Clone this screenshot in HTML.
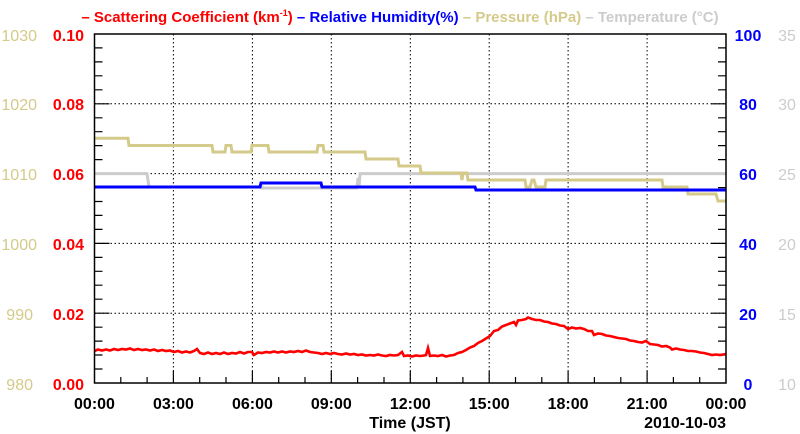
<!DOCTYPE html>
<html><head><style>body{margin:0;background:#fff}svg{display:block}</style></head><body>
<svg width="800" height="434" xmlns="http://www.w3.org/2000/svg" font-family="Liberation Sans, Arial, sans-serif">
<rect width="800" height="434" fill="#fff"/>
<g font-size="15" font-weight="bold">
<text x="400" y="22" text-anchor="middle"><tspan fill="#f00">– Scattering Coefficient (km<tspan font-size="9" dy="-6">-1</tspan><tspan dy="6">)</tspan></tspan><tspan fill="#00f"> – Relative Humidity(%)</tspan><tspan fill="#d4ca8a"> – Pressure (hPa)</tspan><tspan fill="#ccc"> – Temperature (°C)</tspan></text>
</g>
<g stroke="#000" stroke-width="1" stroke-dasharray="1.5,2.5">
<line x1="94.5" y1="103.8" x2="726" y2="103.8"/><line x1="94.5" y1="173.6" x2="726" y2="173.6"/><line x1="94.5" y1="243.4" x2="726" y2="243.4"/><line x1="94.5" y1="313.2" x2="726" y2="313.2"/>
<line x1="173.4" y1="34" x2="173.4" y2="383"/><line x1="252.4" y1="34" x2="252.4" y2="383"/><line x1="331.3" y1="34" x2="331.3" y2="383"/><line x1="410.3" y1="34" x2="410.3" y2="383"/><line x1="489.2" y1="34" x2="489.2" y2="383"/><line x1="568.1" y1="34" x2="568.1" y2="383"/><line x1="647.1" y1="34" x2="647.1" y2="383"/>
</g>
<g stroke="#000" stroke-width="1.2">
<path d="M94.5,47.9h8M94.5,61.9h8M94.5,75.8h8M94.5,89.8h8M94.5,117.8h8M94.5,131.7h8M94.5,145.6h8M94.5,159.6h8M94.5,187.6h8M94.5,201.5h8M94.5,215.4h8M94.5,229.4h8M94.5,257.4h8M94.5,271.3h8M94.5,285.2h8M94.5,299.2h8M94.5,327.2h8M94.5,341.1h8M94.5,355h8M94.5,369h8"/>
<path d="M94.5,103.8h15M94.5,173.6h15M94.5,243.4h15M94.5,313.2h15"/>
<path d="M726,47.9h-8M726,61.9h-8M726,75.8h-8M726,89.8h-8M726,117.8h-8M726,131.7h-8M726,145.6h-8M726,159.6h-8M726,187.6h-8M726,201.5h-8M726,215.4h-8M726,229.4h-8M726,257.4h-8M726,271.3h-8M726,285.2h-8M726,299.2h-8M726,327.2h-8M726,341.1h-8M726,355h-8M726,369h-8"/>
<path d="M726,103.8h-15M726,173.6h-15M726,243.4h-15M726,313.2h-15"/>
<path d="M120.8,383v-6M147.1,383v-6M173.4,383v-12M199.7,383v-6M226,383v-6M252.4,383v-12M278.7,383v-6M305,383v-6M331.3,383v-12M357.6,383v-6M384,383v-6M410.3,383v-12M436.6,383v-6M462.9,383v-6M489.2,383v-12M515.5,383v-6M541.8,383v-6M568.1,383v-12M594.4,383v-6M620.8,383v-6M647.1,383v-12M673.4,383v-6M699.7,383v-6"/>
</g>
<polyline fill="none" stroke="#ccc" stroke-width="3" points="94.5,173.6 147,173.6 149,187 262,187 262,188 357,188 358,178 359,188 360,173.6 726,173.6"/>
<polyline fill="none" stroke="#d4ca8a" stroke-width="3" points="94.5,138.3 128,138.3 129,145.5 212,145.5 213,152 225,152 226,145.5 231,145.5 232,152 251,152 252,145.5 268,145.5 269,152 317,152 318,145.5 323,145.5 324,152 365,152 366,159 398,159 399,166 420,166 421,173 461,173 462,180 463,173 467,173 468,180 525,180 526,187 530,187 532,180 534,180 536,187 545,187 546,180 662,180 663,187 687,187 688,194 716,194 718,201 726,201"/>
<polyline fill="none" stroke="#00f" stroke-width="3" points="94.5,187 260,187 261,183 321,183 322,187 475,187 476,190 726,190"/>
<polyline fill="none" stroke="#f00" stroke-width="2.6" points="94.5,351 98,349.5 102,350.5 106,349.5 110,350.5 114,349 118,350 122,349 126,349.5 130,348.5 134,350 138,349 142,350 146,349.5 150,350.5 154,349.5 158,351 162,350 166,351 170,350.5 174,352 178,351 182,352.5 186,351.5 190,352.5 194,351 197,349 200,353 204,354 208,352.5 212,354 216,353 220,354 224,352.5 228,354 232,353 236,353.5 240,352 244,353.5 248,352 252,352 254,355 258,352.5 262,353 266,352 270,352.5 274,351.5 278,352.5 282,351.5 286,352.5 290,351.5 294,352 298,351 302,352 306,350.5 310,352 314,352.5 318,353 322,354 326,353 330,354 334,353 338,354 342,354.5 346,353.5 350,354.5 354,354 358,355 362,354.5 366,355.5 370,355 374,355.5 378,354.5 382,355.5 386,356 390,355 394,355.5 398,355 402,352 404,356 408,355.5 412,356.5 416,355.5 420,356 424,355.5 426,355 428,348 430,356 434,355.5 438,356 442,355 446,356.5 450,355.5 454,355 458,353 462,352 466,350 470,347.5 474,346 478,343 482,341 486,338.5 490,336 494,331 498,330 502,326.5 506,325 510,323.5 514,322 516,325 518,320.5 522,320 526,319 528,317.5 532,319 536,320 540,320 544,321.5 548,322 552,323.5 556,324 560,325.5 564,326 568,329 572,327.5 576,328.5 580,328 584,329 588,331 592,331 594,335 598,333.5 602,334 606,335.5 610,336 614,337 618,338 622,338.5 626,339 630,340.5 634,341 638,342 642,342.5 646,341 650,344 654,344.5 658,345 662,346.5 666,346 670,347.5 672,349.5 676,348.5 680,349.5 684,350 688,351 692,351 696,351.5 700,352.5 704,353 708,354 712,355 716,354.5 720,355 726,354"/>
<rect x="94.5" y="34" width="631.5" height="349" fill="none" stroke="#000" stroke-width="1.5"/>
<g font-size="16" font-weight="bold" text-anchor="end" fill="#f00">
<text x="84" y="41">0.10</text><text x="84" y="110">0.08</text><text x="84" y="180">0.06</text><text x="84" y="250">0.04</text><text x="84" y="320">0.02</text><text x="84" y="390">0.00</text>
</g>
<g font-size="16" text-anchor="end" fill="#d4ca8a">
<text x="37" y="41">1030</text><text x="37" y="110">1020</text><text x="37" y="180">1010</text><text x="37" y="250">1000</text><text x="33" y="320">990</text><text x="33" y="390">980</text>
</g>
<g font-size="16" font-weight="bold" text-anchor="middle" fill="#00f">
<text x="748" y="41">100</text><text x="748" y="110">80</text><text x="748" y="180">60</text><text x="748" y="250">40</text><text x="748" y="320">20</text><text x="748" y="390">0</text>
</g>
<g font-size="16" text-anchor="middle" fill="#ccc">
<text x="787" y="41">35</text><text x="787" y="110">30</text><text x="787" y="180">25</text><text x="787" y="250">20</text><text x="787" y="320">15</text><text x="787" y="390">10</text>
</g>
<g font-size="16" font-weight="bold" text-anchor="middle" fill="#000">
<text x="94.5" y="409">00:00</text><text x="173.4" y="409">03:00</text><text x="252.4" y="409">06:00</text><text x="331.3" y="409">09:00</text><text x="410.3" y="409">12:00</text><text x="489.2" y="409">15:00</text><text x="568.1" y="409">18:00</text><text x="647.1" y="409">21:00</text><text x="726" y="409">00:00</text>
<text x="410" y="428">Time (JST)</text><text x="726" y="428" text-anchor="end">2010-10-03</text>
</g>
</svg>
</body></html>
